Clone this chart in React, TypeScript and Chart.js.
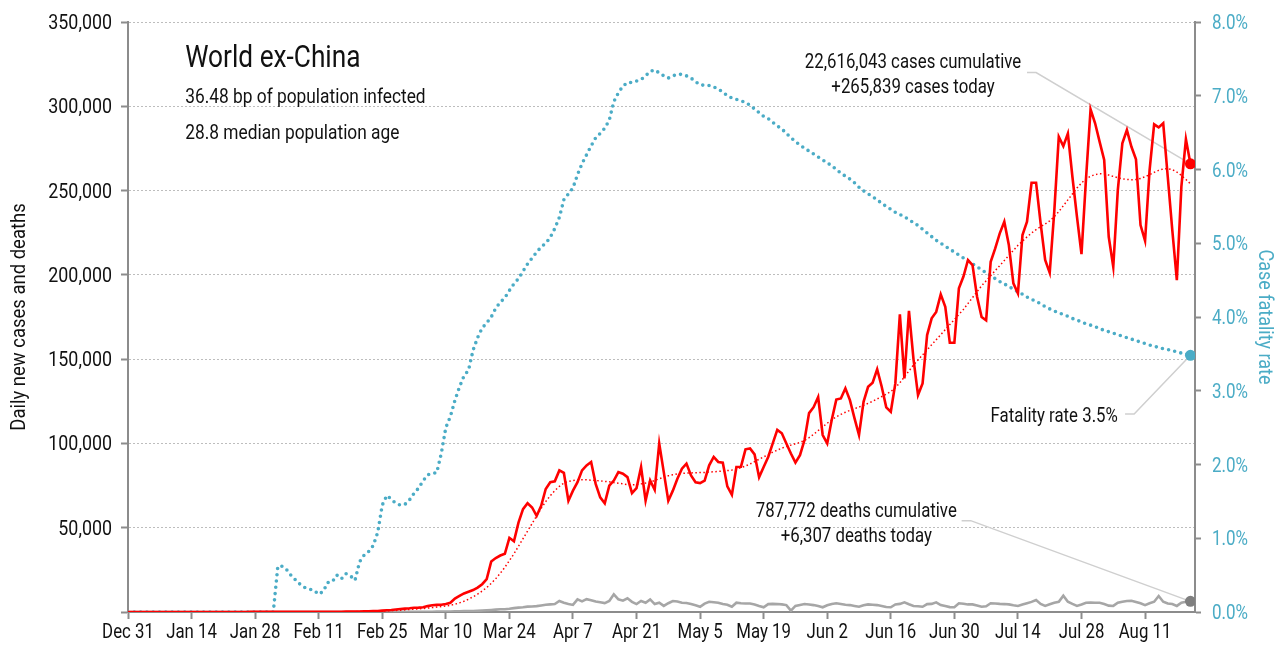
import React, { useEffect, useRef } from 'react';
import { Chart, registerables } from 'chart.js';

Chart.register(...registerables);

const FONT = "Roboto, 'Liberation Sans', sans-serif";

// x tick labels, one every 14 days starting Dec 31
const tickLabels = ['Dec 31', 'Jan 14', 'Jan 28', 'Feb 11', 'Feb 25', 'Mar 10', 'Mar 24', 'Apr 7', 'Apr 21', 'May 5', 'May 19', 'Jun 2', 'Jun 16', 'Jun 30', 'Jul 14', 'Jul 28', 'Aug 11'];

// daily new cases (thousands), Dec 31 .. Aug 21
const casesThousands = [
  0, 0, 0, 0, 0, 0, 0, 0, 0, 0,
  0, 0, 0, 0, 0.01, 0.01, 0.01, 0.01, 0.02, 0.02,
  0.02, 0.02, 0.03, 0.03, 0.03, 0.04, 0.04, 0.05, 0.05, 0.05,
  0.06, 0.06, 0.07, 0.07, 0.08, 0.08, 0.09, 0.09, 0.1, 0.1,
  0.1, 0.12, 0.12, 0.13, 0.14, 0.15, 0.16, 0.18, 0.2, 0.22,
  0.25, 0.3, 0.35, 0.4, 0.5, 0.6, 0.8, 1.0, 1.2, 1.5,
  1.8, 2.0, 2.2, 2.5, 2.6, 2.8, 3.5, 4.0, 4.2, 4.3,
  4.8, 5.5, 8.0, 9.5, 11, 12, 13, 14.5, 16.5, 19.5,
  30, 32, 33.5, 34.5, 44, 42, 53, 61, 64.5, 62,
  57, 63, 73, 77, 77.5, 84, 82.5, 66, 72, 77,
  84, 87, 89, 76, 68, 64.5, 75, 78, 83, 82,
  80, 70.5, 73.5, 86, 66, 78, 72.5, 100, 83, 66,
  72, 79, 85, 88, 81, 77, 76.5, 78, 87, 92,
  89, 88.6, 74.5, 69.5, 86, 86.2, 96.5, 97, 93.5, 80,
  86, 92, 100, 108, 106, 100, 94, 88.6, 93, 102,
  118, 121.5, 127.5, 105, 100, 114, 126, 126.7, 132.7, 125.7,
  115, 105, 124.7, 133.6, 136, 144, 133.6, 121.4, 118.8, 135.6,
  176.6, 138.6, 178.7, 150, 128.7, 135.6, 164.3, 174.2, 178, 188.4,
  181, 159.7, 159.7, 192, 199, 208.8, 205.8, 187, 175, 173,
  207.8, 215.7, 224.6, 231.5, 217.7, 195, 189, 223.6, 231.5, 254.6,
  254.6, 230.5, 208.8, 201.2, 237.4, 281.9, 276.4, 283.9, 258.2, 234.5,
  212.3, 257.2, 298.2, 289.9, 278.9, 268.1, 222.6, 204.8, 250.3, 278,
  285.9, 276, 268.5, 229.5, 220.2, 262.2, 289.3, 287.5, 289.9, 258.2,
  226.6, 196.9, 252.3, 280.5, 265.839,
];

// 7-day average of new cases (thousands)
const trendThousands = [
  0, 0, 0, 0, 0, 0, 0, 0, 0, 0,
  0, 0, 0, 0, 0, 0, 0, 0, 0, 0,
  0, 0, 0, 0, 0, 0, 0, 0, 0, 0,
  0, 0, 0, 0, 0, 0, 0, 0, 0, 0,
  0.1, 0.1, 0.1, 0.1, 0.1, 0.1, 0.1, 0.15, 0.15, 0.2,
  0.2, 0.25, 0.3, 0.35, 0.4, 0.5, 0.55, 0.65, 0.8, 0.95,
  1.1, 1.3, 1.5, 1.7, 1.9, 2.1, 2.3, 2.6, 2.9, 3.2,
  3.6, 4.0, 4.6, 5.4, 6.4, 7.6, 9.0, 10.6, 12.4, 14.5,
  17, 19.8, 23, 26.5, 30.5, 34.5, 39, 43.5, 48, 52.5,
  57, 61.5, 65.5, 69, 72, 74.5, 76.5, 77.5, 78, 78.3,
  78.5, 78.4, 78.2, 78, 77.8, 77.5, 77.2, 76.8, 76.4, 76,
  75.6, 75.4, 75.5, 76, 76.5, 77.2, 78, 79, 80, 80.8,
  81.4, 81.9, 82.2, 82.4, 82.5, 82.6, 82.7, 82.8, 83, 83.2,
  83.4, 83.6, 83.9, 84.2, 84.8, 85.6, 86.6, 87.8, 89.2, 90.6,
  92, 93.4, 94.8, 96, 97.2, 98.2, 99, 99.8, 100.6, 101.8,
  103.4, 105.4, 107.6, 109.8, 112, 114, 115.8, 117.2, 118.5, 119.6,
  120.6, 121.6, 122.6, 123.8, 125, 126.4, 127.8, 129.2, 130.8, 133,
  136, 139.5, 143, 146.5, 149.5, 152.5, 155.5, 158.5, 161.5, 164.5,
  167.5, 170.5, 173.5, 176.5, 179.5, 183, 186.5, 190, 193.5, 196.5,
  199.5, 202.5, 205.5, 208.5, 211.5, 214.5, 217.5, 220, 222.5, 224.8,
  226.8, 228.6, 230.2, 232, 234.5, 237.5, 241, 244.5, 248, 251.5,
  254.5, 257, 258.5, 259.5, 260, 259.8, 259.2, 258.4, 257.6, 257,
  256.6, 256.4, 256.6, 257.2, 258.2, 259.4, 260.8, 262, 262.8, 263,
  262.4, 261, 259, 256.6, 254,
];

// daily new deaths (thousands)
const deathsThousands = [
  0, 0, 0, 0, 0, 0, 0, 0, 0, 0,
  0, 0, 0, 0, 0, 0, 0, 0, 0, 0,
  0, 0, 0, 0, 0, 0, 0, 0, 0, 0,
  0, 0, 0, 0, 0, 0, 0, 0, 0, 0,
  0, 0, 0, 0, 0, 0, 0, 0, 0, 0,
  0.01, 0.01, 0.02, 0.02, 0.02, 0.03, 0.03, 0.04, 0.05, 0.06,
  0.07, 0.08, 0.09, 0.1, 0.12, 0.13, 0.15, 0.17, 0.2, 0.22,
  0.25, 0.3, 0.35, 0.4, 0.5, 0.55, 0.6, 0.7, 0.85, 1.0,
  1.2, 1.4, 1.6, 1.6, 1.9, 2.3, 2.6, 2.8, 3.2, 3.3,
  3.5, 3.9, 4.3, 4.5, 4.7, 6.5, 5.5, 4.8, 4.2, 7.5,
  6.3, 7.6, 7.0, 6.2, 5.8, 5.3, 6.5, 10.5, 7.5, 6.7,
  8.1, 6.0, 4.7, 6.5, 5.5, 7.5, 4.7, 5.5, 3.6, 5.2,
  6.5, 6.2, 5.5, 5.3, 4.7, 4.0, 3.1, 5.0, 6.1, 5.8,
  5.5, 4.7, 4.3, 3.1, 5.5, 5.2, 5.0, 5.0, 4.5, 3.6,
  2.8, 4.7, 4.8, 4.7, 4.5, 4.1, 0.8, 3.6, 4.2, 4.7,
  4.4, 4.1, 3.5, 2.8, 4.0, 4.8, 5.2, 4.8, 4.3, 4.1,
  3.6, 3.1, 4.0, 4.5, 4.3, 4.1, 3.6, 3.0, 2.8, 4.5,
  4.8, 5.7, 4.6, 3.6, 3.4, 3.1, 4.7, 4.8, 5.7, 4.1,
  3.5, 2.9, 2.8, 5.2, 4.9, 4.5, 4.5, 3.8, 3.1, 3.4,
  5.2, 5.0, 4.8, 4.7, 4.5, 4.0, 3.6, 4.4, 5.2, 6.0,
  7.1, 4.8, 3.6, 4.6, 5.5, 6.1, 9.7, 6.1, 4.8, 3.6,
  4.5, 5.5, 5.6, 5.5, 5.5, 4.8, 3.8, 3.6, 5.5, 6.1,
  6.5, 6.7, 6.0, 5.2, 4.1, 5.2, 6.1, 9.5, 6.1, 5.0,
  4.7, 3.6, 5.5, 6.1, 6.307,
];

// case fatality rate (%)
const fatalityPct = [
  0, 0, 0, 0, 0, 0, 0, 0, 0, 0,
  0, 0, 0, 0, 0, 0, 0, 0, 0, 0,
  0, 0, 0, 0, 0, 0, 0, 0, 0, 0,
  0, 0, 0, 0.62, 0.62, 0.57, 0.49, 0.43, 0.37, 0.33,
  0.31, 0.29, 0.24, 0.28, 0.40, 0.41, 0.50, 0.45, 0.52, 0.49,
  0.43, 0.68, 0.77, 0.82, 0.90, 1.08, 1.45, 1.58, 1.53, 1.47,
  1.45, 1.46, 1.52, 1.61, 1.68, 1.78, 1.86, 1.88, 1.89, 2.15,
  2.5, 2.65, 2.87, 3.05, 3.2, 3.28, 3.55, 3.72, 3.85, 3.92,
  4.0, 4.12, 4.2, 4.26, 4.36, 4.45, 4.52, 4.62, 4.72, 4.8,
  4.88, 4.95, 5.0, 5.08, 5.2, 5.35, 5.59, 5.67, 5.75, 5.93,
  6.08, 6.2, 6.32, 6.43, 6.49, 6.56, 6.67, 6.92, 7.04, 7.13,
  7.18, 7.18, 7.2, 7.22, 7.27, 7.33, 7.35, 7.31, 7.27, 7.24,
  7.27, 7.29, 7.29, 7.27, 7.24, 7.19, 7.15, 7.14, 7.14, 7.12,
  7.09, 7.05, 7.0, 6.97, 6.95, 6.93, 6.91, 6.87, 6.82, 6.77,
  6.72, 6.69, 6.64, 6.59, 6.55, 6.49, 6.43, 6.38, 6.33, 6.29,
  6.25, 6.21, 6.17, 6.13, 6.09, 6.05, 6.0, 5.95, 5.91, 5.87,
  5.82, 5.76, 5.71, 5.67, 5.63, 5.59, 5.54, 5.5, 5.46, 5.42,
  5.39, 5.36, 5.32, 5.28, 5.24, 5.19, 5.14, 5.09, 5.04, 5.0,
  4.96, 4.92, 4.88, 4.84, 4.8, 4.76, 4.72, 4.68, 4.64, 4.6,
  4.56, 4.52, 4.48, 4.45, 4.41, 4.38, 4.34, 4.31, 4.27, 4.24,
  4.21, 4.18, 4.14, 4.11, 4.08, 4.06, 4.03, 4.01, 3.98, 3.96,
  3.93, 3.91, 3.89, 3.87, 3.84, 3.82, 3.8, 3.78, 3.76, 3.74,
  3.72, 3.7, 3.68, 3.66, 3.64, 3.62, 3.6, 3.59, 3.57, 3.56,
  3.54, 3.53, 3.51, 3.5, 3.48,
];

const titleText = 'World ex-China';
const subtitleLines = ['36.48 bp of population infected', '28.8 median population age'];
const casesNote = ['22,616,043 cases cumulative', '+265,839 cases today'];
const deathsNote = ['787,772 deaths cumulative', '+6,307 deaths today'];
const fatalityNote = 'Fatality rate 3.5%';
const leftAxisTitle = 'Daily new cases and deaths';
const rightAxisTitle = 'Case fatality rate';

const RED = '#ff0000';
const BLUE = '#4bacc6';
const GRAY = '#a6a6a6';
const DARKGRAY = '#7f7f7f';
const AXIS = '#8c8c8c';
const LEADER = '#cfcfcf';
const INK = '#111111';

const LAST = casesThousands.length - 1;

const toXY = (arr: number[], mult: number) => arr.map((v, i) => ({ x: i, y: v * mult }));

type LabelOpts = { size: number; sx: number; align: CanvasTextAlign; color: string; rot?: number };
function drawLabel(ctx: CanvasRenderingContext2D, text: string, x: number, y: number, o: LabelOpts) {
  ctx.save();
  ctx.translate(x, y);
  if (o.rot) ctx.rotate(o.rot);
  ctx.scale(o.sx, 1);
  ctx.font = `${o.size}px ${FONT}`;
  ctx.fillStyle = o.color;
  ctx.textAlign = o.align;
  ctx.textBaseline = 'alphabetic';
  ctx.fillText(text, 0, 0);
  ctx.restore();
}

const annotationPlugin = {
  id: 'notes',
  beforeDatasetsDraw(chart: any) {
    const { ctx, scales } = chart;
    const x = scales.x;
    const y = scales.y;
    const y2 = scales.y2;
    ctx.save();
    ctx.strokeStyle = LEADER;
    ctx.lineWidth = 1.5;
    const leader = (sx: number, sv: number, bx: number, ex: number, ey: number) => {
      ctx.beginPath();
      ctx.moveTo(x.getPixelForValue(sx), y.getPixelForValue(sv));
      ctx.lineTo(x.getPixelForValue(bx), y.getPixelForValue(sv));
      ctx.lineTo(ex, ey);
      ctx.stroke();
    };
    leader(198, 320000, 200, x.getPixelForValue(LAST), y.getPixelForValue(casesThousands[LAST] * 1000));
    leader(219.6, 117400, 221.6, x.getPixelForValue(LAST), y2.getPixelForValue(fatalityPct[LAST]));
    leader(183.6, 54200, 185.6, x.getPixelForValue(LAST), y.getPixelForValue(deathsThousands[LAST] * 1000));
    ctx.restore();

    const tx = x.getPixelForValue(12.6);
    drawLabel(ctx, titleText, tx, y.getPixelForValue(323400), { size: 32, sx: 0.82, align: 'left', color: INK });
    drawLabel(ctx, subtitleLines[0], tx, y.getPixelForValue(302000), { size: 21, sx: 0.825, align: 'left', color: INK });
    drawLabel(ctx, subtitleLines[1], tx, y.getPixelForValue(280400), { size: 21, sx: 0.825, align: 'left', color: INK });

    const nOpts: LabelOpts = { size: 21, sx: 0.8, align: 'center', color: INK };
    drawLabel(ctx, casesNote[0], x.getPixelForValue(172.9), y.getPixelForValue(322500), nOpts);
    drawLabel(ctx, casesNote[1], x.getPixelForValue(172.9), y.getPixelForValue(307600), nOpts);
    drawLabel(ctx, deathsNote[0], x.getPixelForValue(160.4), y.getPixelForValue(56500), nOpts);
    drawLabel(ctx, deathsNote[1], x.getPixelForValue(160.4), y.getPixelForValue(41700), nOpts);
    drawLabel(ctx, fatalityNote, x.getPixelForValue(218), y.getPixelForValue(112900), { ...nOpts, align: 'right' });
  },
  afterDraw(chart: any) {
    const { ctx, scales, chartArea } = chart;
    const x = scales.x;
    const y = scales.y;
    const y2 = scales.y2;
    // left tick labels
    y.ticks.forEach((t: any) => {
      if (t.value === 0) return;
      drawLabel(ctx, Number(t.value).toLocaleString('en-US'), y.right - 16, y.getPixelForValue(t.value) + 7,
        { size: 21, sx: 0.85, align: 'right', color: INK });
    });
    // right tick labels
    y2.ticks.forEach((t: any) => {
      drawLabel(ctx, Number(t.value).toFixed(1) + '%', y2.left + 17, y2.getPixelForValue(t.value) + 7,
        { size: 21, sx: 0.81, align: 'left', color: BLUE });
    });
    // bottom tick labels
    x.ticks.forEach((t: any) => {
      const v = Number(t.value);
      if (v % 14 !== 0) return;
      const lab = tickLabels[v / 14];
      if (!lab) return;
      drawLabel(ctx, lab, x.getPixelForValue(v), chartArea.bottom + 26, { size: 21, sx: 0.8, align: 'center', color: INK });
    });
    const midY = (chartArea.top + chartArea.bottom) / 2;
    drawLabel(ctx, leftAxisTitle, 25, midY, { size: 21, sx: 0.88, align: 'center', color: INK, rot: -Math.PI / 2 });
    drawLabel(ctx, rightAxisTitle, chart.width - 24, midY, { size: 21, sx: 0.855, align: 'center', color: BLUE, rot: Math.PI / 2 });
  },
};

export default function App() {
  const ref = useRef<HTMLCanvasElement>(null);
  useEffect(() => {
    document.body.style.margin = '0';
    const canvas = ref.current;
    if (!canvas) return;
    const lastOnly = (r: number) => (c: any) => (c.dataIndex === LAST ? r : 0);
    const chart = new Chart(canvas, {
      type: 'line',
      data: {
        datasets: [
          {
            label: 'Daily new cases',
            data: toXY(casesThousands, 1000),
            yAxisID: 'y',
            borderColor: RED,
            backgroundColor: RED,
            borderWidth: 2.6,
            pointRadius: lastOnly(5.5),
            pointBackgroundColor: RED,
            pointBorderWidth: 0,
            order: 1,
          },
          {
            label: '7-day average',
            data: toXY(trendThousands, 1000),
            yAxisID: 'y',
            borderColor: RED,
            borderWidth: 1.5,
            borderDash: [1.5, 2.5],
            pointRadius: 0,
            order: 2,
          },
          {
            label: 'Daily new deaths',
            data: toXY(deathsThousands, 1000),
            yAxisID: 'y',
            borderColor: GRAY,
            borderWidth: 2.6,
            pointRadius: lastOnly(5.5),
            pointBackgroundColor: DARKGRAY,
            pointBorderWidth: 0,
            order: 3,
          },
          {
            label: 'Case fatality rate',
            data: toXY(fatalityPct, 1),
            yAxisID: 'y2',
            borderColor: BLUE,
            borderWidth: 3.6,
            borderDash: [0, 6.3],
            borderCapStyle: 'round',
            pointRadius: lastOnly(5.5),
            pointBackgroundColor: BLUE,
            pointBorderWidth: 0,
            order: 4,
          },
        ],
      },
      options: {
        responsive: false,
        animation: false,
        events: [],
        layout: { padding: { top: 22, left: 0, right: 0, bottom: 0 } },
        plugins: { legend: { display: false }, tooltip: { enabled: false } },
        scales: {
          x: {
            type: 'linear',
            min: 0,
            max: 235,
            afterFit: (s: any) => { s.height = 42; },
            ticks: { display: false, stepSize: 14, includeBounds: false, autoSkip: false, maxRotation: 0 },
            grid: { drawOnChartArea: false, drawTicks: true, tickLength: 7, tickColor: AXIS, tickWidth: 2 },
            border: { color: AXIS, width: 2 },
          },
          y: {
            type: 'linear',
            position: 'left',
            min: 0,
            max: 350000,
            afterFit: (s: any) => { s.width = 128; },
            ticks: { display: false, stepSize: 50000 },
            grid: {
              color: (c: any) => (c.tick && c.tick.value === 0 ? 'rgba(0,0,0,0)' : '#bdbdbd'),
              lineWidth: 1,
              tickLength: 7,
              tickColor: AXIS,
              tickWidth: 2,
            },
            border: { color: AXIS, width: 2, dash: [2, 2] },
          },
          y2: {
            type: 'linear',
            position: 'right',
            min: 0,
            max: 8,
            afterFit: (s: any) => { s.width = 88; },
            ticks: { display: false, stepSize: 1 },
            grid: { drawOnChartArea: false, tickLength: 6, tickColor: AXIS, tickWidth: 2 },
            border: { color: AXIS, width: 2 },
          },
        },
      } as any,
      plugins: [annotationPlugin],
    });
    return () => chart.destroy();
  }, []);
  return <canvas ref={ref} width={1283} height={654} style={{ display: 'block' }} />;
}
